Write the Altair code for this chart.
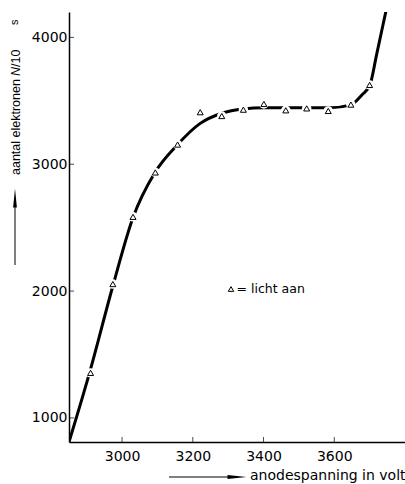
import altair as alt
import pandas as pd

# measured points (triangles)
pt_x = [2911, 2974, 3031, 3094, 3157, 3221, 3282, 3343, 3401, 3463, 3522, 3583, 3647, 3700]
pt_y = [1355, 2055, 2585, 2935, 3155, 3410, 3380, 3430, 3475, 3425, 3440, 3420, 3470, 3625]

# hand-drawn smooth curve through the data
curve_x = [2850, 2911, 2974, 3031, 3093, 3157, 3220, 3282, 3343, 3400, 3460, 3520, 3588, 3647, 3678, 3701, 3720, 3746, 3762]
curve_y = [810, 1385, 2040, 2580, 2935, 3155, 3320, 3402, 3436, 3445, 3445, 3445, 3445, 3468, 3546, 3625, 3868, 4205, 4410]

x_ticks = [3000, 3200, 3400, 3600]
y_ticks = [1000, 2000, 3000, 4000]

FONT = "DejaVu Sans"
TFONT = "Liberation Sans"
X_DOM = [2850, 3800]
Y_DOM = [810, 4200]

pts = pd.DataFrame({"x": pt_x, "y": pt_y})
crv = pd.DataFrame({"x": curve_x, "y": curve_y})
xt = pd.DataFrame({"x": x_ticks, "y": [Y_DOM[0]] * len(x_ticks)})
yt = pd.DataFrame({"x": [X_DOM[0]] * len(y_ticks), "y": y_ticks})

xs = alt.Scale(domain=X_DOM, nice=False, zero=False)
ys = alt.Scale(domain=Y_DOM, nice=False, zero=False)

xax = alt.Axis(values=x_ticks, format="d", tickSize=0, labelPadding=7, grid=False, title=None,
               domainColor="black", domainWidth=1.5, labelFont=FONT, labelFontSize=14,
               labelColor="black")
yax = alt.Axis(values=y_ticks, format="d", tickSize=0, labelPadding=2, grid=False, title=None,
               domainColor="black", domainWidth=1.5, labelFont=FONT, labelFontSize=14,
               labelColor="black")

line = alt.Chart(crv).mark_line(color="black", strokeWidth=3, interpolate="monotone", clip=True).encode(
    x=alt.X("x:Q", scale=xs, axis=xax),
    y=alt.Y("y:Q", scale=ys, axis=yax),
)
halo = alt.Chart(pts).mark_point(shape="circle", filled=True, color="white", size=90, opacity=1).encode(
    x="x:Q", y="y:Q")
tri = alt.Chart(pts).mark_point(shape="triangle-up", filled=True, fill="white", stroke="black",
                                strokeWidth=1, size=36, opacity=1).encode(x="x:Q", y="y:Q")

xtick = alt.Chart(xt).mark_tick(orient="vertical", size=5, thickness=1, yOffset=-2.5, color="black").encode(
    x="x:Q", y="y:Q")
ytick = alt.Chart(yt).mark_tick(orient="horizontal", size=5, thickness=1, xOffset=2.5, color="black").encode(
    x="x:Q", y="y:Q")

one = alt.Data(values=[{}])

def txt(s, x, y, size=12, angle=0, align="left", baseline="alphabetic", style="normal", font=FONT):
    return alt.Chart(one).mark_text(text=s, font=font, fontSize=size, angle=angle, align=align,
                                     baseline=baseline, fontStyle=style, color="black").encode(
        x=alt.value(x), y=alt.value(y))

# rotated y title (reads bottom to top)
ytitle = [
    txt("aantal elektronen", -49, 163, size=12.5, angle=270, font=TFONT),
    txt("N", -49, 64, size=12.5, angle=270, style="italic", font=TFONT),
    txt("/10", -49, 55, size=12.5, angle=270, font=TFONT),
    txt("s", -51, 13, size=11, angle=270, font=TFONT),
]
xtitle = txt("anodespanning in volt", 181, 468, size=14)

legend_tri = alt.Chart(one).mark_point(shape="triangle-up", filled=True, fill="white", stroke="black",
                                       strokeWidth=1, size=30, opacity=1).encode(
    x=alt.value(162), y=alt.value(277))
legend_txt = txt("= licht aan", 167.5, 280.5, size=12.5)

arrow_y = alt.Chart(one).mark_rule(color="black", strokeWidth=1).encode(
    x=alt.value(-54), y=alt.value(253), y2=alt.value(190))
head_y = alt.Chart(one).mark_point(shape="M0,-1L0.2,1L-0.2,1Z", filled=True, color="black", size=360,
                                   opacity=1).encode(x=alt.value(-54), y=alt.value(186))
arrow_x = alt.Chart(one).mark_rule(color="black", strokeWidth=1).encode(
    x=alt.value(100), x2=alt.value(162), y=alt.value(465))
head_x = alt.Chart(one).mark_point(shape="M1,0L-1,0.2L-1,-0.2Z", filled=True, color="black", size=360,
                                   opacity=1).encode(x=alt.value(168), y=alt.value(465))

chart = alt.layer(line, halo, tri, xtick, ytick, *ytitle, xtitle, legend_tri, legend_txt,
                  arrow_y, head_y, arrow_x, head_x).properties(
    width=336, height=430,
    autosize=alt.AutoSizeParams(type="none"),
    padding={"left": 69, "top": 12, "right": 0, "bottom": 42},
    background="white",
).configure_view(stroke=None)

chart.save("out.html", embed_options={"renderer": "svg", "actions": False})
